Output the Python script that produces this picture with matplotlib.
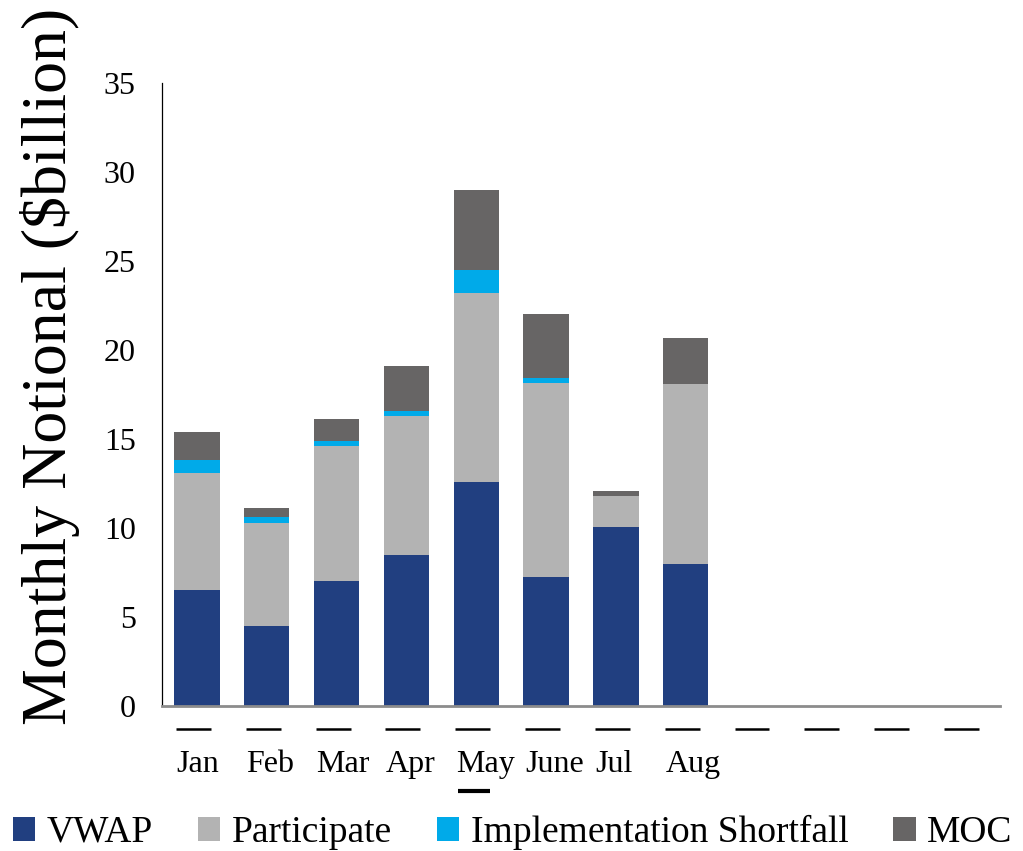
import matplotlib.pyplot as plt
import numpy as np

months = ["Jan", "Feb", "Mar", "Apr", "May", "June", "Jul", "Aug", "", "", "", ""]
vwap = [6.5, 4.5, 7.0, 8.5, 12.6, 7.25, 10.05, 8.0, 0, 0, 0, 0]
participate = [6.6, 5.8, 7.6, 7.8, 10.6, 10.9, 1.75, 10.1, 0, 0, 0, 0]
impl_shortfall = [0.7, 0.3, 0.3, 0.3, 1.3, 0.3, 0.0, 0.0, 0, 0, 0, 0]
moc = [1.6, 0.5, 1.2, 2.5, 4.5, 3.6, 0.3, 2.6, 0, 0, 0, 0]

series = [
    ("VWAP", vwap, "#213f80"),
    ("Participate", participate, "#b3b3b3"),
    ("Implementation Shortfall", impl_shortfall, "#00aae9"),
    ("MOC", moc, "#676565"),
]

plt.rcParams["font.family"] = ["Liberation Serif", "DejaVu Serif"]

fig = plt.figure(figsize=(10.23, 8.51), dpi=100)
ax = fig.add_axes([0.1584, 0.1704, 0.819, 0.732])

x = np.arange(len(months))
width = 0.65
bottom = np.zeros(len(months))
for name, vals, color in series:
    vals = np.array(vals)
    ax.bar(x, vals, width, bottom=bottom, color=color, label=name, linewidth=0)
    bottom += vals

ax.set_xlim(-0.5, len(months) - 0.5)
ax.set_ylim(0, 35)
ax.set_yticks(np.arange(0, 36, 5))
ax.tick_params(axis="y", length=0, labelsize=23, pad=19)
ax.set_xticks([])

for s in ["top", "right"]:
    ax.spines[s].set_visible(False)
ax.spines["left"].set_color("black")
ax.spines["left"].set_linewidth(0.9)
ax.spines["bottom"].set_color("#8c8c8c")
ax.spines["bottom"].set_linewidth(2)

ax.set_ylabel("Monthly Notional ($billion)", fontsize=46)
ax.yaxis.label.set_va("center")
ax.yaxis.set_label_coords(-0.134, 0.545)

# short dashes under each month slot
trans = ax.get_xaxis_transform()
for xi in x:
    ax.plot([xi - 0.3, xi + 0.2], [-0.037, -0.037], color="black", lw=1.8,
            transform=trans, clip_on=False, solid_capstyle="butt")

# month names, left aligned under their bars
for xi, m in zip(x, months):
    if m:
        ax.text(xi - 0.29, -0.094, m, transform=trans, ha="left", va="center",
                fontsize=23)

# underline under the May label
may = months.index("May")
ax.plot([may - 0.26, may + 0.2], [-0.136, -0.136], color="black", lw=3,
        transform=trans, clip_on=False, solid_capstyle="butt")

fig.legend(loc="center left", bbox_to_anchor=(-0.002, 0.022), ncol=4, frameon=False,
           fontsize=27, handlelength=0.6, handleheight=0.6, handletextpad=0.3,
           columnspacing=1.2, borderaxespad=0)

fig.savefig("out.png", dpi=100)
